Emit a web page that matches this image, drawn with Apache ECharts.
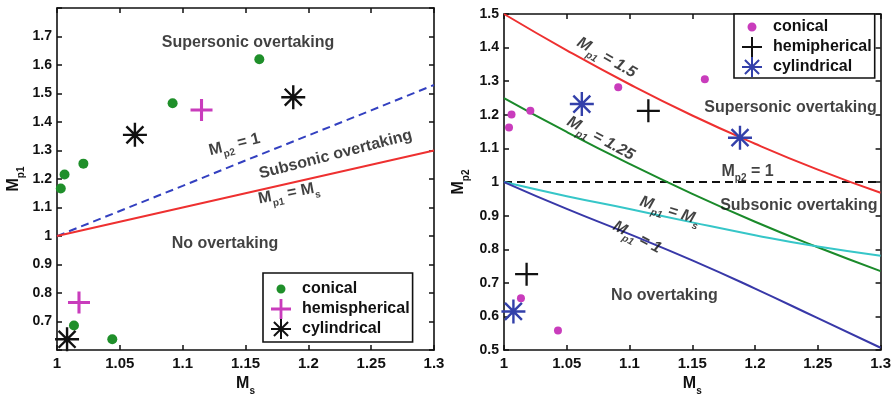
<!DOCTYPE html>
<html><head><meta charset="utf-8">
<script src="https://cdn.jsdelivr.net/npm/echarts@6/dist/echarts.min.js"></script>
<style>html,body{margin:0;padding:0;background:#fff}#c{width:894px;height:401px}</style>
</head><body><div id="c"></div>
<script>
// ---------- data ----------
const xTicks = [1, 1.05, 1.1, 1.15, 1.2, 1.25, 1.3];
const curveMs = [1, 1.05, 1.1, 1.15, 1.2, 1.25, 1.3];

// left panel: Mp1 vs Ms
const leftConicalMs  = [1.003, 1.006, 1.021, 1.092, 1.161, 1.0135, 1.044];
const leftConicalMp1 = [1.167, 1.216, 1.254, 1.466, 1.620, 0.686, 0.638];
const leftHemiMs  = [1.115, 1.0175];
const leftHemiMp1 = [1.442, 0.767];
const leftCylMs  = [1.062, 1.188, 1.008];
const leftCylMp1 = [1.355, 1.487, 0.638];
const leftMp2Eq1  = [1.0, 1.088, 1.176, 1.265, 1.353, 1.441, 1.530];
const leftMp1EqMs = [1.0, 1.05, 1.1, 1.15, 1.2, 1.25, 1.3];

// right panel: Mp2 vs Ms
const rightConicalMs  = [1.004, 1.006, 1.021, 1.091, 1.160, 1.0135, 1.043];
const rightConicalMp2 = [1.162, 1.201, 1.212, 1.282, 1.306, 0.654, 0.558];
const rightHemiMs  = [1.115, 1.018];
const rightHemiMp2 = [1.212, 0.726];
const rightCylMs  = [1.062, 1.188, 1.0075];
const rightCylMp2 = [1.232, 1.132, 0.615];
const rightMp1Eq15  = [1.5, 1.392, 1.291, 1.198, 1.114, 1.037, 0.968];
const rightMp1Eq125 = [1.25, 1.149, 1.054, 0.965, 0.882, 0.806, 0.735];
const rightMp1EqMs  = [1.0, 0.958, 0.920, 0.880, 0.842, 0.808, 0.781];
const rightMp1Eq1   = [1.0, 0.920, 0.845, 0.767, 0.683, 0.595, 0.507];
const rightMp2Eq1   = [1, 1, 1, 1, 1, 1, 1];

// ---------- text annotations ----------
const leftNotes = [
  ['Supersonic overtaking', 1.152, 1.678, 0],
  ['{m|M}{s|p2}{m| = 1}', 1.1416, 1.314, 14],
  ['Subsonic overtaking', 1.2217, 1.286, 14.5],
  ['{m|M}{s|p1}{m| = M}{s|s}', 1.1849, 1.143, 11],
  ['No overtaking', 1.1337, 0.974, 0]
];
const rightNotes = [
  ['{i|M}{si|p1}{i| = 1.5}', 1.081, 1.365, -30],
  ['Supersonic overtaking', 1.2283, 1.2226, 0],
  ['{i|M}{si|p1}{i| = 1.25}', 1.0762, 1.1245, -29],
  ['{m|M}{s|p2}{m| = 1}', 1.194, 1.0265, 0],
  ['{i|M}{si|p1}{i| = M}{si|s}', 1.1317, 0.909, -18],
  ['Subsonic overtaking', 1.2349, 0.9285, 0],
  ['{i|M}{si|p1}{i| = 1}', 1.1053, 0.8304, -28],
  ['No overtaking', 1.1278, 0.6618, 0]
];

// ---------- styling ----------
const FONT = 'Liberation Sans, Arial, sans-serif';
const TXT = '#111';
const C_GREEN = '#1f8f2a', C_MAG = '#c93cbc', C_RED = '#ee3030', C_BLUE = '#3340c0';
const C_GREEN2 = '#1a8a2a', C_CYAN = '#36c6c8', C_NAVY = '#3838a8', C_STAR = '#3340aa';

const PLUS_THICK = 'path://M8.6,0L11.4,0L11.4,8.6L20,8.6L20,11.4L11.4,11.4L11.4,20L8.6,20L8.6,11.4L0,11.4L0,8.6L8.6,8.6Z';
const PLUS_THIN = 'path://M9,0L11,0L11,9L20,9L20,11L11,11L11,20L9,20L9,11L0,11L0,9L9,9Z';
const STAR = 'path://M0,9L20,9L20,11L0,11Z M9,0L11,0L11,20L9,20Z M3.64,2.22L17.78,16.36L16.36,17.78L2.22,3.64Z M16.36,2.22L17.78,3.64L3.64,17.78L2.22,16.36Z';
const DOT_ICON = 'path://M14.5,10C14.5,12.49 12.49,14.5 10,14.5C7.51,14.5 5.5,12.49 5.5,10C5.5,7.51 7.51,5.5 10,5.5C12.49,5.5 14.5,7.51 14.5,10Z M0,0L0.02,0L0,0.02Z M20,20L19.98,20L20,19.98Z';

const rich = {
  m: {fontSize: 16, fontWeight: 'bold', fontFamily: FONT, color: TXT, lineHeight: 20, verticalAlign: 'top'},
  s: {fontSize: 10, fontWeight: 'bold', fontFamily: FONT, color: TXT, lineHeight: 10, padding: [10, 0, 0, 0], verticalAlign: 'top'},
  i: {fontSize: 16, fontWeight: 'bold', fontStyle: 'italic', fontFamily: FONT, color: TXT, lineHeight: 20, verticalAlign: 'top'},
  si: {fontSize: 10, fontWeight: 'bold', fontStyle: 'italic', fontFamily: FONT, color: TXT, lineHeight: 10, padding: [10, 0, 0, 0], verticalAlign: 'top'}
};

function pts(xs, ys) { return xs.map((x, i) => [x, ys[i]]); }
function fmt(v) { return String(+v.toFixed(2)); }

function xAx(grid, pos, show) {
  return {
    type: 'value', gridIndex: grid, position: pos, min: 1, max: 1.3, interval: 0.05,
    axisLine: {show: true, onZero: false, lineStyle: {color: '#111', width: 1.6}},
    axisTick: {show: true, inside: true, length: 5, lineStyle: {color: '#111', width: 1.5}},
    splitLine: {show: false},
    axisLabel: {show: show, margin: 6, fontSize: 15, fontWeight: 'bold', fontFamily: FONT, color: TXT, formatter: fmt},
    name: show ? '{m|M}{s|s}' : '', nameLocation: 'middle', nameGap: 20,
    nameTextStyle: {rich: rich}
  };
}
function yAx(grid, pos, show, min, max, hideEnds, nameTxt, gap) {
  return {
    type: 'value', gridIndex: grid, position: pos, min: min, max: max, interval: 0.1,
    axisLine: {show: true, onZero: false, lineStyle: {color: '#111', width: 1.6}},
    axisTick: {show: true, inside: true, length: 5, lineStyle: {color: '#111', width: 1.5}},
    splitLine: {show: false},
    axisLabel: {show: show, margin: 5, fontSize: 14, fontWeight: 'bold', fontFamily: FONT, color: TXT,
      formatter: v => (hideEnds && (Math.abs(v - min) < 1e-6 || Math.abs(v - max) < 1e-6)) ? '' : fmt(v)},
    name: show ? nameTxt : '', nameLocation: 'middle', nameRotate: 90, nameGap: gap,
    nameTextStyle: {rich: rich}
  };
}

function scatter(name, data, xi, symbol, size, color) {
  return {type: 'scatter', name: name, xAxisIndex: xi, yAxisIndex: xi, data: data, symbol: symbol,
    symbolSize: size, itemStyle: {color: color, opacity: 1}, z: 5, emphasis: {disabled: true}};
}
function line(data, xi, color, dashed, smooth) {
  return {type: 'line', xAxisIndex: xi, yAxisIndex: xi, data: data, showSymbol: false, symbol: 'none',
    smooth: smooth ? 0.5 : false,
    lineStyle: {color: color, width: 2, type: dashed ? [8, 5] : 'solid'}, z: 3, silent: true};
}
function notes(list, xi) {
  return {type: 'scatter', xAxisIndex: xi, yAxisIndex: xi, symbolSize: 1, silent: true, z: 6,
    itemStyle: {color: 'rgba(0,0,0,0)'},
    data: list.map(n => ({value: [n[1], n[2]], label: {show: true, position: 'inside', formatter: n[0], rotate: n[3]}})),
    label: {show: true, fontSize: 16, fontWeight: 'bold', fontFamily: FONT, color: TXT, rich: rich}
  };
}

const legendText = {fontSize: 16, fontWeight: 'bold', fontFamily: FONT, color: TXT};

const option = {
  animation: false,
  backgroundColor: '#fff',
  grid: [
    {left: 57, top: 8, width: 377, height: 346},
    {left: 504, top: 14, width: 378, height: 340}
  ],
  xAxis: [xAx(0, 'bottom', true), xAx(0, 'top', false), xAx(1, 'bottom', true), xAx(1, 'top', false)],
  yAxis: [
    yAx(0, 'left', true, 0.6, 1.8, true, '{m|M}{s|p1}', 31),
    yAx(0, 'right', false, 0.6, 1.8, true, '', 0),
    yAx(1, 'left', true, 0.5, 1.5, false, '{m|M}{s|p2}', 33),
    yAx(1, 'right', false, 0.5, 1.5, false, '', 0)
  ],
  legend: [
    {left: 263, top: 273, orient: 'vertical', padding: [6, 3, 3, 8], itemWidth: 32, itemHeight: 20, itemGap: 0,
      borderColor: '#111', borderWidth: 1.6, backgroundColor: '#fff', selectedMode: false, textStyle: legendText, z: 10,
      data: [
        {name: 'conical', icon: DOT_ICON, itemStyle: {color: C_GREEN}},
        {name: 'hemispherical', icon: PLUS_THICK, itemStyle: {color: C_MAG}},
        {name: 'cylindrical', icon: STAR, itemStyle: {color: '#111'}}
      ]},
    {left: 734, top: 14, orient: 'vertical', padding: [3, 3, 1, 8], itemWidth: 32, itemHeight: 20, itemGap: 0,
      borderColor: '#111', borderWidth: 1.6, backgroundColor: '#fff', selectedMode: false, textStyle: legendText, z: 10,
      data: [
        {name: 'conical ', icon: DOT_ICON, itemStyle: {color: C_MAG}},
        {name: 'hemipherical', icon: PLUS_THIN, itemStyle: {color: '#111'}},
        {name: 'cylindrical ', icon: STAR, itemStyle: {color: C_STAR}}
      ]}
  ],
  series: [
    line(pts(curveMs, leftMp2Eq1), 0, C_BLUE, true, false),
    line(pts(curveMs, leftMp1EqMs), 0, C_RED, false, false),
    scatter('conical', pts(leftConicalMs, leftConicalMp1), 0, 'circle', 10, C_GREEN),
    scatter('hemispherical', pts(leftHemiMs, leftHemiMp1), 0, PLUS_THICK, 22, C_MAG),
    scatter('cylindrical', pts(leftCylMs, leftCylMp1), 0, STAR, 24, '#111'),
    notes(leftNotes, 0),

    line(pts(curveMs, rightMp2Eq1), 2, '#111', true, false),
    line(pts(curveMs, rightMp1Eq15), 2, C_RED, false, true),
    line(pts(curveMs, rightMp1Eq125), 2, C_GREEN2, false, true),
    line(pts(curveMs, rightMp1EqMs), 2, C_CYAN, false, true),
    line(pts(curveMs, rightMp1Eq1), 2, C_NAVY, false, true),
    scatter('conical ', pts(rightConicalMs, rightConicalMp2), 2, 'circle', 8, C_MAG),
    scatter('hemipherical', pts(rightHemiMs, rightHemiMp2), 2, PLUS_THIN, 23, '#111'),
    scatter('cylindrical ', pts(rightCylMs, rightCylMp2), 2, STAR, 24, C_STAR),
    notes(rightNotes, 2)
  ]
};
const chart = echarts.init(document.getElementById('c'), null, {renderer: 'canvas'});
chart.setOption(option);
</script></body></html>
